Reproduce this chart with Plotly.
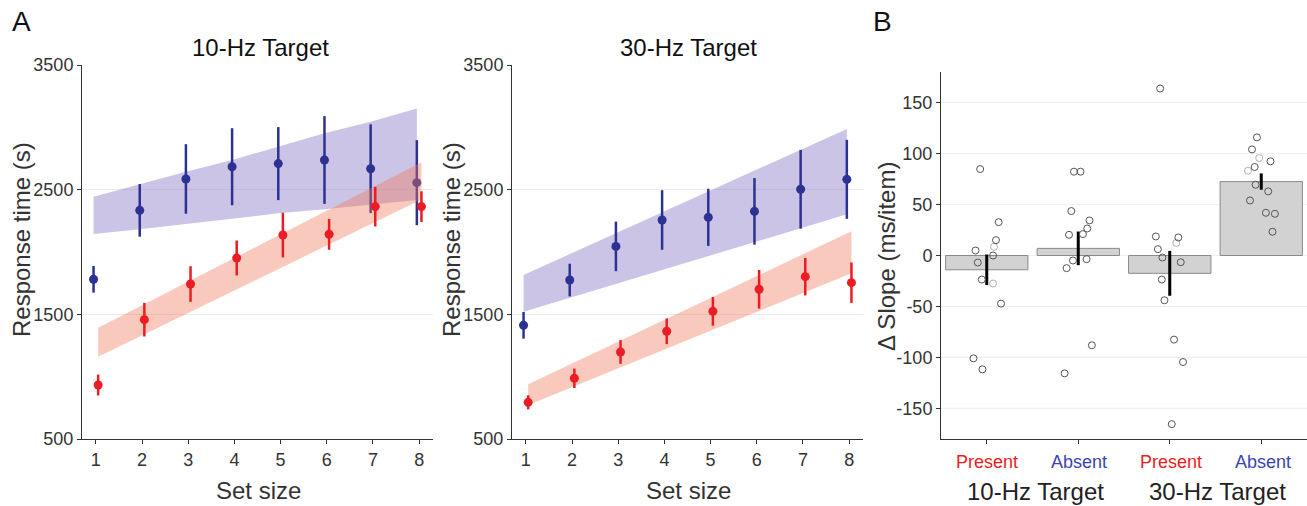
import plotly.graph_objects as go

W, H = 1307, 506
FONT = "Liberation Sans"

set_size = [1, 2, 3, 4, 5, 6, 7, 8]

# ---- Panel A: 10-Hz target ----
absent10_rt = [1781, 2334, 2586, 2684, 2709, 2738, 2668, 2556]
absent10_err = [107, 211, 279, 309, 293, 352, 356, 341]
present10_rt = [933, 1457, 1743, 1952, 2136, 2142, 2364, 2364]
present10_err = [84, 135, 143, 140, 179, 124, 159, 123]
absent10_band_hi = [2444, 2545, 2644, 2738, 2845, 2952, 3045, 3152]
absent10_band_lo = [2144, 2182, 2225, 2270, 2310, 2342, 2377, 2417]
present10_band_hi = [1393, 1582, 1772, 1961, 2151, 2340, 2530, 2719]
present10_band_lo = [1160, 1340, 1521, 1701, 1881, 2062, 2242, 2422]

# ---- Panel A: 30-Hz target ----
absent30_rt = [1412, 1775, 2045, 2257, 2278, 2326, 2503, 2583]
absent30_err = [107, 131, 199, 239, 229, 267, 316, 317]
present30_rt = [794, 987, 1198, 1364, 1524, 1701, 1802, 1754]
present30_err = [56, 78, 95, 103, 115, 155, 150, 162]
absent30_band_hi = [1816, 1984, 2150, 2318, 2484, 2652, 2818, 2987]
absent30_band_lo = [1521, 1633, 1743, 1856, 1968, 2078, 2190, 2302]
present30_band_hi = [939, 1114, 1289, 1465, 1639, 1816, 1992, 2166]
present30_band_lo = [773, 922, 1075, 1225, 1377, 1527, 1676, 1829]

rt_ticks = [500, 1500, 2500, 3500]

# ---- Panel B ----
conditions = ["Present", "Absent", "Present", "Absent"]
groups = ["10-Hz Target", "30-Hz Target"]
slope_mean = [-14, 7, -17.5, 72.5]
slope_sem = [15, 16.5, 22, 8]
subj_dslope = [
    [84.8, 32.7, 15.1, 4.9, 8.5, 0.0, -6.9, -23.6, -27.5, -47.2, -100.9, -111.7],
    [82.2, 82.2, 43.6, 34.4, 26.5, 20.3, 21.0, -4.9, -3.6, -12.4, -88.1, -115.6],
    [163.8, 18.7, 17.7, 12.4, 6.2, -2.0, -6.6, -23.6, -43.9, -82.5, -104.5, -165.4],
    [115.9, 104.1, 95.6, 92.4, 86.8, 83.2, 69.4, 62.9, 54.0, 41.9, 40.9, 23.3],
]
subj_jitter = [
    [-0.072, 0.130, 0.101, -0.123, 0.080, 0.069, -0.098, -0.054, 0.069, 0.156, -0.145, -0.047],
    [-0.047, 0.025, -0.076, 0.123, 0.098, -0.101, 0.051, -0.058, 0.091, -0.127, 0.149, -0.149],
    [-0.105, -0.152, 0.094, 0.072, -0.130, -0.080, 0.120, -0.087, -0.058, 0.047, 0.145, 0.022],
    [-0.047, -0.101, -0.022, 0.101, -0.072, -0.145, -0.062, 0.076, -0.123, 0.051, 0.149, 0.123],
]
subj_faint = [
    [0, 0, 0, 0, 1, 0, 0, 0, 1, 0, 0, 0],
    [0, 0, 0, 0, 0, 0, 0, 0, 0, 0, 0, 0],
    [0, 0, 0, 1, 0, 0, 0, 0, 0, 0, 0, 0],
    [0, 0, 1, 0, 0, 1, 0, 0, 0, 0, 0, 0],
]
slope_ticks = [-150, -100, -50, 0, 50, 100, 150]

BLUE = "#2c3192"
RED = "#ec1c24"
BLUE_BAND = "rgba(140,125,200,0.45)"
RED_BAND = "rgba(240,120,90,0.40)"
LABEL_BLUE = "#3a44b0"


def px(x):
    return x / W


def py(y):
    return 1 - y / H


fig = go.Figure()


def add_panel(xa, ya, a_rt, a_err, p_rt, p_err, a_hi, a_lo, p_hi, p_lo):
    xb = [s - 0.05 for s in set_size]
    xr = [s + 0.05 for s in set_size]
    fig.add_trace(go.Scatter(x=xb + xb[::-1], y=a_hi + a_lo[::-1], fill="toself",
                             fillcolor=BLUE_BAND, line=dict(width=0), mode="lines",
                             hoverinfo="skip", showlegend=False, xaxis=xa, yaxis=ya))
    fig.add_trace(go.Scatter(x=xb, y=a_rt, mode="markers",
                             marker=dict(color=BLUE, size=9),
                             error_y=dict(type="data", array=a_err, color=BLUE, thickness=2.5, width=0),
                             showlegend=False, xaxis=xa, yaxis=ya))
    fig.add_trace(go.Scatter(x=xr + xr[::-1], y=p_hi + p_lo[::-1], fill="toself",
                             fillcolor=RED_BAND, line=dict(width=0), mode="lines",
                             hoverinfo="skip", showlegend=False, xaxis=xa, yaxis=ya))
    fig.add_trace(go.Scatter(x=xr, y=p_rt, mode="markers",
                             marker=dict(color=RED, size=9),
                             error_y=dict(type="data", array=p_err, color=RED, thickness=2.5, width=0),
                             showlegend=False, xaxis=xa, yaxis=ya))


add_panel("x", "y", absent10_rt, absent10_err, present10_rt, present10_err,
          absent10_band_hi, absent10_band_lo, present10_band_hi, present10_band_lo)
add_panel("x2", "y2", absent30_rt, absent30_err, present30_rt, present30_err,
          absent30_band_hi, absent30_band_lo, present30_band_hi, present30_band_lo)

# Panel B bars
fig.add_trace(go.Bar(x=[0, 1, 2, 3], y=slope_mean, width=0.9,
                     marker=dict(color="#d2d2d2", line=dict(color="#8a8a8a", width=1)),
                     error_y=dict(type="data", array=slope_sem, color="black", thickness=3, width=0),
                     showlegend=False, xaxis="x3", yaxis="y3"))
for i in range(4):
    xs = [i + j for j in subj_jitter[i]]
    op = [0.45 if f else 1.0 for f in subj_faint[i]]
    fig.add_trace(go.Scatter(x=xs, y=subj_dslope[i], mode="markers",
                             marker=dict(symbol="circle-open", size=7, color="#555555",
                                         opacity=op, line=dict(width=1)),
                             showlegend=False, xaxis="x3", yaxis="y3"))

tickfont = dict(family=FONT, size=18, color="#333333")
axis_common = dict(showline=True, linecolor="#333333", linewidth=1, ticks="outside",
                   ticklen=4, tickcolor="#333333", tickfont=tickfont, zeroline=False,
                   automargin=False)

yA_dom = [py(439), py(65)]
layout = dict(
    width=W, height=H, margin=dict(l=0, r=0, t=0, b=0, autoexpand=False),
    paper_bgcolor="white", plot_bgcolor="white",
    font=dict(family=FONT, color="#222222"),
    xaxis=dict(domain=[px(82), px(433)], range=[0.7, 8.3], tickvals=set_size,
               showgrid=False, anchor="y", **axis_common),
    yaxis=dict(domain=yA_dom, range=[500, 3500], tickvals=rt_ticks, showgrid=True,
               gridcolor="#ececec", anchor="x", **axis_common),
    xaxis2=dict(domain=[px(512), px(863)], range=[0.7, 8.3], tickvals=set_size,
                showgrid=False, anchor="y2", **axis_common),
    yaxis2=dict(domain=yA_dom, range=[500, 3500], tickvals=rt_ticks, showgrid=True,
                gridcolor="#ececec", anchor="x2", **axis_common),
    xaxis3=dict(domain=[px(941), 1.0], range=[-0.5, 3.5], tickvals=[0, 1, 2, 3],
                showticklabels=False, showgrid=False, anchor="y3", **axis_common),
    yaxis3=dict(domain=[py(439), py(72)], range=[-180, 180], tickvals=slope_ticks,
                ticktext=[str(v) for v in slope_ticks], showgrid=True,
                gridcolor="#efefef", anchor="x3", **axis_common),
)
fig.update_layout(**layout)

for v in slope_ticks:
    if v < 0:
        fig.add_shape(type="line", xref="x3 domain", yref="y3", x0=0, x1=1, y0=v, y1=v,
                      line=dict(color="#cfcfcf", width=1), layer="below")

ann = []


def text(x, y, s, size, color="#111111", angle=0, xanchor="center"):
    ann.append(dict(x=px(x), y=py(y), xref="paper", yref="paper", text=s, showarrow=False,
                    textangle=angle, xanchor=xanchor, yanchor="middle",
                    font=dict(family=FONT, size=size, color=color)))


text(10, 22, "A", 28, xanchor="left")
text(883, 22, "B", 28)
text(260, 47, "10-Hz Target", 24)
text(688, 47, "30-Hz Target", 24)
text(258, 490, "Set size", 24, "#333333")
text(688, 490, "Set size", 24, "#333333")
text(22, 240, "Response time (s)", 24, "#333333", angle=-90)
text(452, 240, "Response time (s)", 24, "#333333", angle=-90)
text(886, 257, "Δ Slope (ms/item)", 24, "#333333", angle=-90)
cat_x = [987, 1079, 1171, 1263]
for i, c in enumerate(conditions):
    text(cat_x[i], 462, c, 18, RED if c == "Present" else LABEL_BLUE)
text(1035, 491, groups[0], 24, "#222222")
text(1217, 491, groups[1], 24, "#222222")
fig.update_layout(annotations=ann)

fig.write_html("out.html", config={"displayModeBar": False},
               post_script="document.body.style.margin='0';document.body.style.overflow='hidden';")
